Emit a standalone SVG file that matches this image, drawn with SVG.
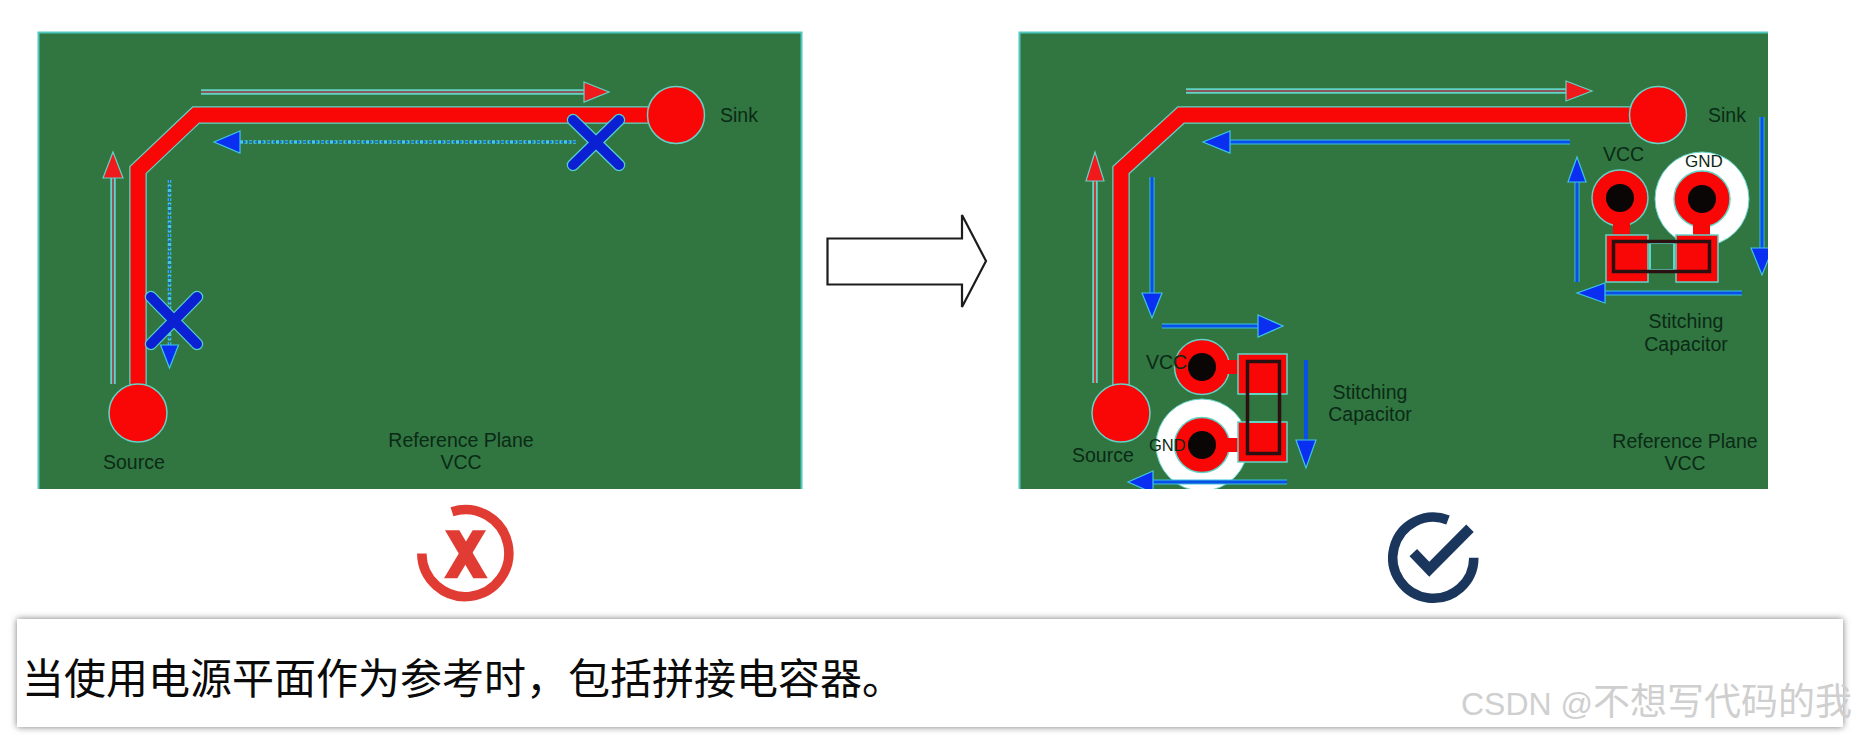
<svg xmlns="http://www.w3.org/2000/svg" width="1857" height="735" viewBox="0 0 1857 735">
<style>
.plane{fill:#317541}
.edge{fill:none;stroke:#4fc8bd;stroke-width:2}
.trace{fill:none;stroke:#f90707;stroke-width:15;stroke-linejoin:miter}
.halo{fill:none;stroke:#62d3c6;stroke-width:17.500;stroke-linejoin:miter}
.pad{fill:#f90707;stroke:#62d3c6;stroke-width:1.500}
.padf{fill:#f90707}
.hole{fill:#0a0606}
.white{fill:#fff;stroke:#62d3c6;stroke-width:1}
.body{fill:none;stroke:#2a1010;stroke-width:3.500}
.gapbox{fill:none;stroke:#62d3c6;stroke-width:2}
.lh{fill:none;stroke:#62d3c6;stroke-width:5.500}
.lc{fill:none;stroke:#8a5a5a;stroke-width:2}
.lb{fill:none;stroke:#38c2e0;stroke-width:5}
.lbc{fill:none;stroke:#0a50e6;stroke-width:3.200}
.dh{fill:none;stroke:#45c9dc;stroke-width:3.500;stroke-dasharray:3 1.500}
.dc{fill:none;stroke:#1463d8;stroke-width:1.600;stroke-dasharray:3 3}
.hr{fill:#f0191c;stroke:#62d3c6;stroke-width:1.200}
.hb{fill:#0a2ff0;stroke:#3ec6e4;stroke-width:1.200}
.xh{fill:none;stroke:#54d0cc;stroke-width:12.500;stroke-linecap:round}
.xc{fill:none;stroke:#0b20d2;stroke-width:10;stroke-linecap:round}
text{font-family:"Liberation Sans",Arial,sans-serif}
.t{font-size:19.500px;fill:#0b2a15}
.m{text-anchor:middle}
.big{font-family:"Liberation Sans","Noto Sans CJK SC",sans-serif;font-size:42px;fill:#0a0a0a}
.wm{font-family:"Liberation Sans","Noto Sans CJK SC",sans-serif;fill:#cfcfcf}
</style>
<defs>
<clipPath id="rp"><rect x="1019" y="32" width="749" height="457"/></clipPath>
<filter id="sh" x="-2%" y="-15%" width="104%" height="130%"><feGaussianBlur stdDeviation="3.500"/></filter>
</defs>
<rect width="1857" height="735" fill="#fff"/>

<g id="panel-left">
<rect class="plane" x="38" y="32" width="764" height="457"/>
<path class="edge" d="M38.500 489V32.500H801.500V489"/>
</g>
<g id="trace-left">
<path class="halo" d="M138 390V170L196 115H650"/>
<path class="trace" d="M138 390V170L196 115H650"/>
</g>
<g id="source-left"><circle class="pad" cx="138" cy="413" r="29"/></g>
<g id="sink-left"><circle class="pad" cx="676" cy="115" r="28.500"/></g>
<g id="connectors-left">
<path class="lh" d="M201 92H586"/><path class="lc" d="M201 92H586"/><polygon class="hr" points="584,82 609,92 584,102"/>
<path class="lh" d="M113 384V176"/><path class="lc" d="M113 384V176"/><polygon class="hr" points="103,178 113,152 123,178"/>
<path class="dh" d="M576 142H238"/><path class="dc" d="M576 142H238"/><polygon class="hb" points="240,131 214,142 240,153"/>
<path class="dh" d="M169.500 180V347"/><path class="dc" d="M169.500 180V347"/><polygon class="hb" points="160.500,345 169.500,368 178.500,345"/>
<path class="xh" d="M573 120L619 165M619 120L573 165"/><path class="xc" d="M573 120L619 165M619 120L573 165"/>
<path class="xh" d="M151 297L197 344M197 297L151 344"/><path class="xc" d="M151 297L197 344M197 297L151 344"/>
</g>
<g id="labels-left">
<text class="t" x="720" y="122">Sink</text>
<text class="t" x="103" y="469">Source</text>
<text class="t m" x="461" y="447">Reference Plane</text>
<text class="t m" x="461" y="469">VCC</text>
</g>

<g id="block-arrow"><polygon points="827.500,238.500 962,238.500 962,215 986,261 962,307 962,284.500 827.500,284.500" fill="#fff" stroke="#1c1c1c" stroke-width="2.200" stroke-linejoin="miter"/></g>

<g id="panel-right">
<rect class="plane" x="1019" y="32" width="749" height="457"/>
<path class="edge" d="M1019.500 489V32.500H1768"/>
</g>
<g id="trace-right">
<path class="halo" d="M1121 390V170L1181 115H1630"/>
<path class="trace" d="M1121 390V170L1181 115H1630"/>
</g>
<g id="source-right"><circle class="pad" cx="1121" cy="413" r="29"/></g>
<g id="sink-right"><circle class="pad" cx="1658" cy="115" r="28.500"/></g>

<g clip-path="url(#rp)">
<g id="cap-bottom">
<circle class="white" cx="1202" cy="445" r="46"/>
<circle class="pad" cx="1202" cy="367" r="27.500"/>
<circle class="pad" cx="1202" cy="445" r="27.500"/>
<rect class="padf" x="1222" y="360" width="20" height="14"/>
<rect class="padf" x="1222" y="438" width="20" height="14"/>
<rect class="pad" x="1238" y="354" width="49" height="40"/>
<rect class="pad" x="1238" y="422" width="49" height="40"/>
<circle class="hole" cx="1202" cy="367" r="14"/>
<circle class="hole" cx="1202" cy="445" r="14"/>
<rect class="gapbox" x="1247" y="394" width="32" height="28"/>
<rect class="body" x="1247.500" y="361.500" width="32" height="92"/>
</g>
<g id="cap-right">
<circle class="white" cx="1702" cy="199" r="47"/>
<circle class="pad" cx="1620" cy="198" r="28"/>
<circle class="pad" cx="1702" cy="199" r="28"/>
<rect class="padf" x="1613" y="220" width="17" height="18"/>
<rect class="padf" x="1693" y="220" width="17" height="18"/>
<rect class="pad" x="1606" y="235" width="42" height="47"/>
<rect class="pad" x="1676" y="235" width="42" height="47"/>
<circle class="hole" cx="1620" cy="198" r="14"/>
<circle class="hole" cx="1702" cy="199" r="14"/>
<rect class="gapbox" x="1650" y="243" width="24" height="27"/>
<rect class="body" x="1613.500" y="241.500" width="96" height="30"/>
</g>
<g id="connectors-right">
<path class="lh" d="M1186 91H1568"/><path class="lc" d="M1186 91H1568"/><polygon class="hr" points="1566,81 1592,91 1566,101"/>
<path class="lh" d="M1095 383V178"/><path class="lc" d="M1095 383V178" style="stroke:#c0403a"/><polygon class="hr" points="1086,181 1095,152 1104,181"/>
<path class="lb" d="M1570 142H1228"/><path class="lbc" d="M1570 142H1228"/><polygon class="hb" points="1230,131 1203,142 1230,153"/>
<path class="lb" d="M1152 177V295"/><path class="lbc" d="M1152 177V295"/><polygon class="hb" points="1142,293 1152,318 1162,293"/>
<path class="lb" d="M1162 326H1260"/><path class="lbc" d="M1162 326H1260"/><polygon class="hb" points="1258,315 1283,326 1258,337"/>
<path class="lbc" d="M1306 360V442" style="stroke-width:4"/><polygon class="hb" points="1296,440 1306,468 1316,440"/>
<path class="lb" d="M1287 482H1151"/><path class="lbc" d="M1287 482H1151"/><polygon class="hb" points="1153,471 1128,482 1153,493"/>
<path class="lb" d="M1577 282V180"/><path class="lbc" d="M1577 282V180"/><polygon class="hb" points="1568,182 1577,157 1586,182"/>
<path class="lb" d="M1742 293H1603"/><path class="lbc" d="M1742 293H1603"/><polygon class="hb" points="1605,283 1577,293 1605,303"/>
<path class="lb" d="M1762 117V250"/><path class="lbc" d="M1762 117V250"/><polygon class="hb" points="1751,248 1762,275 1773,248"/>
</g>
</g>
<g id="labels-right">
<text class="t" x="1708" y="122">Sink</text>
<text class="t" x="1603" y="161">VCC</text>
<text class="t" x="1685" y="167" style="font-size:17px">GND</text>
<text class="t m" x="1686" y="328">Stitching</text>
<text class="t m" x="1686" y="351">Capacitor</text>
<text class="t" x="1146" y="369">VCC</text>
<text class="t" x="1149" y="451" style="font-size:16.500px">GND</text>
<text class="t m" x="1370" y="399">Stitching</text>
<text class="t m" x="1370" y="421">Capacitor</text>
<text class="t" x="1072" y="462">Source</text>
<text class="t m" x="1685" y="448">Reference Plane</text>
<text class="t m" x="1685" y="470">VCC</text>
</g>

<g id="icon-wrong">
<path d="M452 511.700A43.500 43.500 0 1 1 421.800 553.500" fill="none" stroke="#e03c33" stroke-width="9.500" transform="translate(0 0)"/>
<polygon fill="#e03c33" points="445,530.300 459.300,530.300 487.700,578.300 473.300,578.300"/>
<polygon fill="#e03c33" points="472.700,530.300 486,530.300 457.300,578.300 444,578.300"/>
</g>
<g id="icon-right">
<path d="M1448 520A40.500 40.500 0 1 0 1473.800 557.700" fill="none" stroke="#1b365d" stroke-width="9.500"/>
<path d="M1413.300 552.700L1429.300 569.300L1470 528.300" fill="none" stroke="#1b365d" stroke-width="10.500"/>
</g>

<g id="caption">
<rect x="17" y="619" width="1826" height="108" fill="#777" filter="url(#sh)"/>
<rect x="17" y="619" width="1826" height="108" fill="#fff"/>
<text class="big" x="22" y="694">当使用电源平面作为参考时，包括拼接电容器。</text>
</g>
<g id="watermark">
<text class="wm" x="1461" y="715" font-size="32">CSDN @<tspan font-size="37">不想写代码的我</tspan></text>
</g>
</svg>
